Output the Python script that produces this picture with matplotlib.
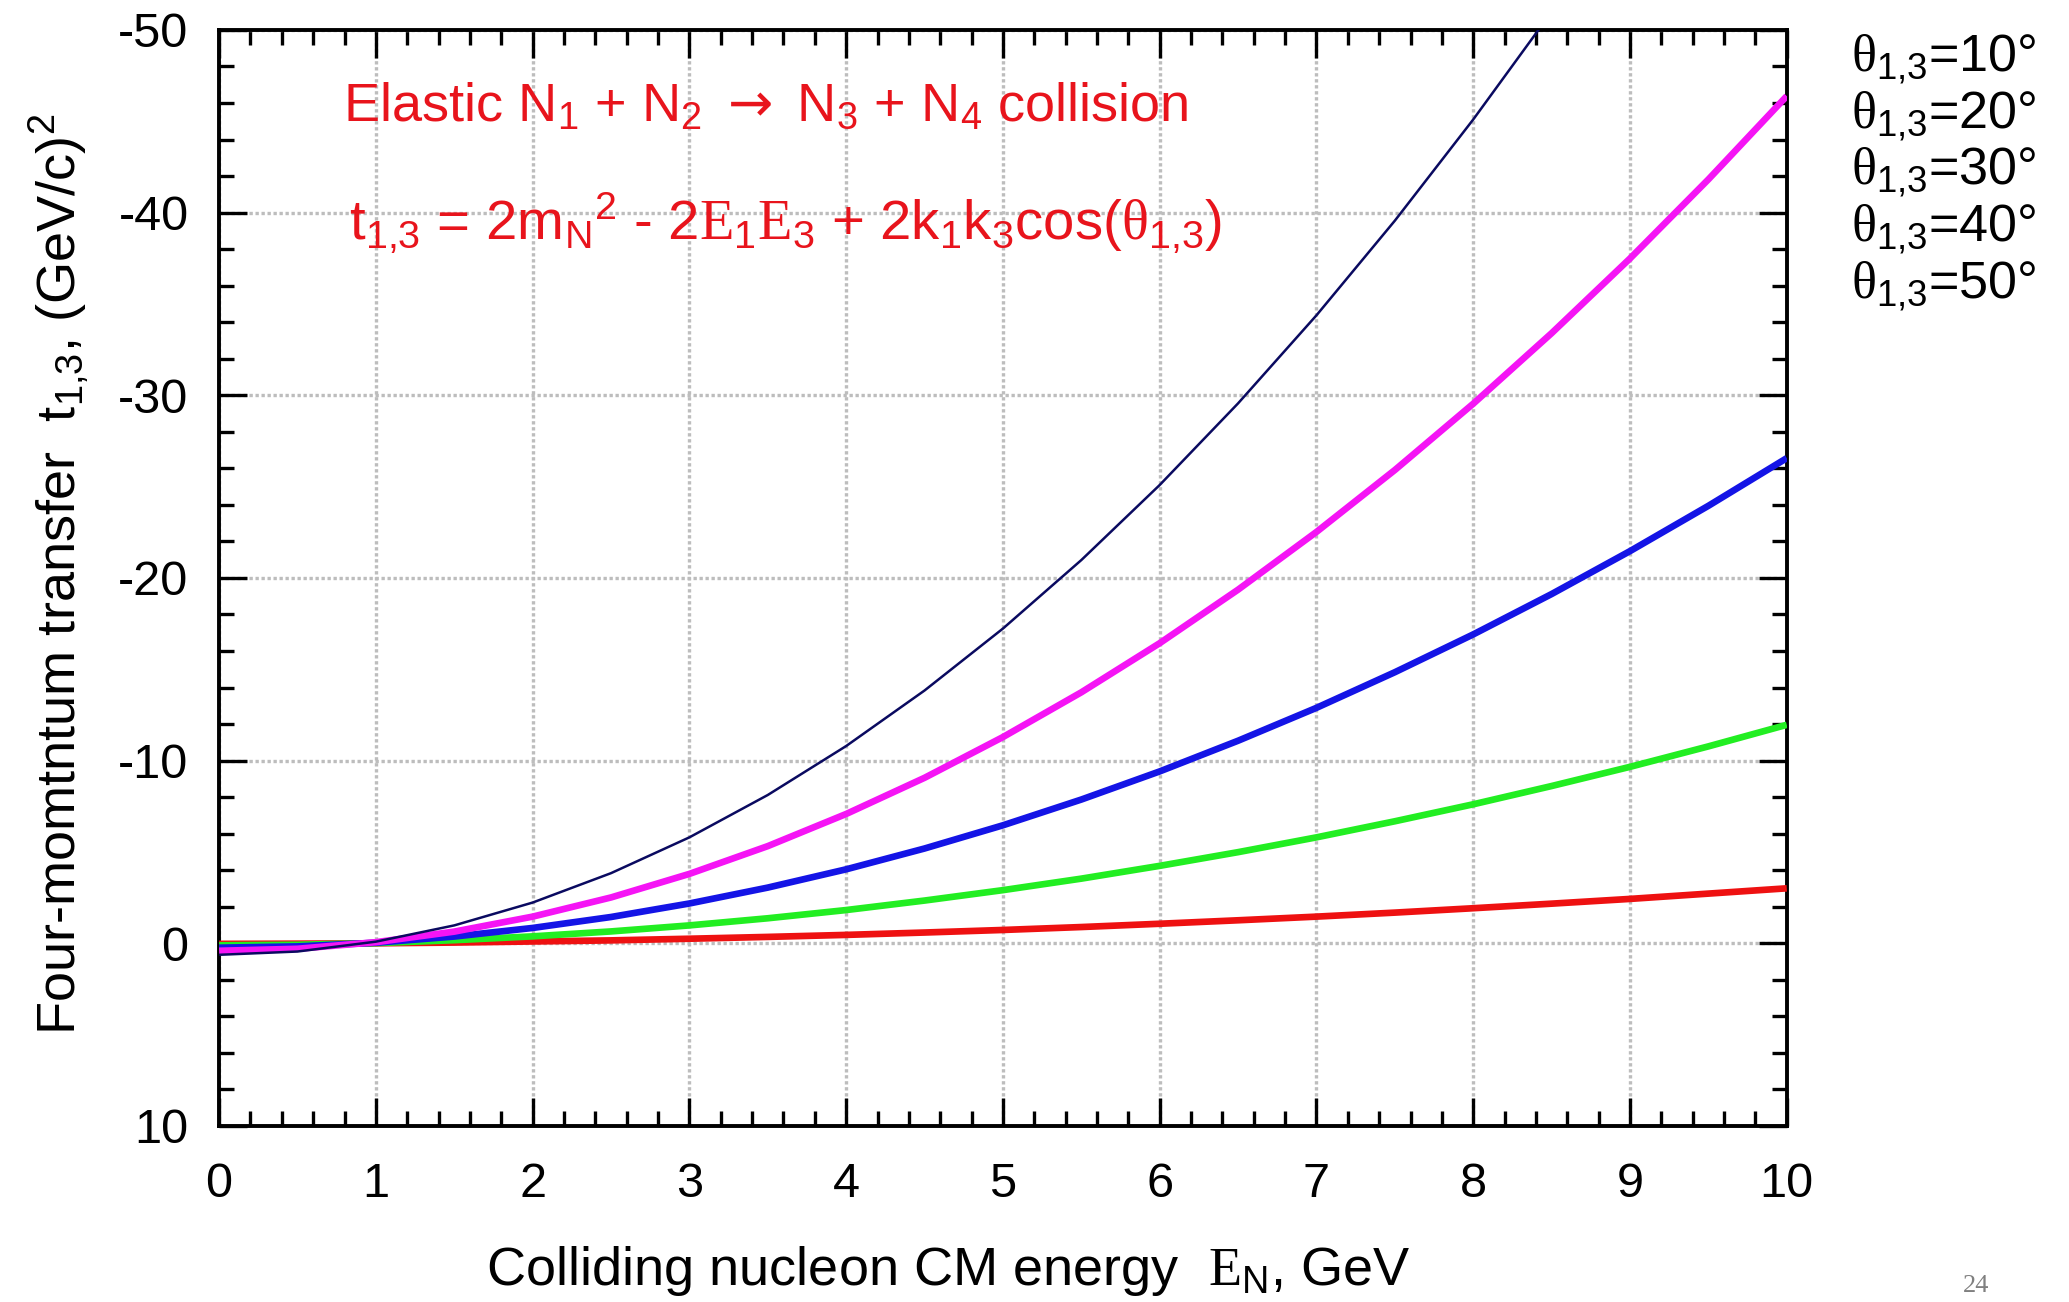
import matplotlib
matplotlib.use("Agg")
import matplotlib.pyplot as plt
from matplotlib.ticker import MultipleLocator

plt.rcParams['font.family'] = ['Liberation Sans', 'DejaVu Sans']
plt.rcParams['mathtext.fontset'] = 'custom'
plt.rcParams['mathtext.rm'] = 'Liberation Sans'
plt.rcParams['mathtext.it'] = 'Liberation Sans'
plt.rcParams['mathtext.bf'] = 'Liberation Serif'
plt.rcParams['mathtext.sf'] = 'DejaVu Sans'
plt.rcParams['axes.unicode_minus'] = False

# ---- data ----
energy = [0, 0.5, 1, 1.5, 2, 2.5, 3, 3.5, 4, 4.5, 5, 5.5, 6, 6.5, 7, 7.5, 8, 8.5, 9, 9.5, 10]
t_10 = [0.03, 0.02, 0.0, -0.04, -0.10, -0.16, -0.25, -0.35, -0.46, -0.59, -0.73, -0.89,
        -1.07, -1.26, -1.46, -1.68, -1.92, -2.17, -2.43, -2.72, -3.01]
t_20 = [0.11, 0.08, -0.01, -0.17, -0.38, -0.65, -0.98, -1.37, -1.82, -2.34, -2.91, -3.54,
        -4.24, -4.99, -5.80, -6.68, -7.61, -8.61, -9.66, -10.78, -11.96]
t_30 = [0.24, 0.17, -0.03, -0.37, -0.84, -1.44, -2.18, -3.05, -4.05, -5.19, -6.46, -7.87,
        -9.41, -11.09, -12.89, -14.84, -16.91, -19.12, -21.47, -23.95, -26.56]
t_40 = [0.41, 0.30, -0.06, -0.64, -1.46, -2.51, -3.80, -5.32, -7.08, -9.06, -11.29, -13.74,
        -16.43, -19.36, -22.52, -25.91, -29.54, -33.40, -37.49, -41.82, -46.38]
t_50 = [0.63, 0.45, -0.09, -0.98, -2.23, -3.84, -5.80, -8.12, -10.80, -13.84, -17.23, -20.98,
        -25.09, -29.56, -34.38, -39.56, -45.10, -50.99, -57.24, -63.85, -70.82]
series = [t_10, t_20, t_30, t_40, t_50]
colors = ['#ee1111', '#22ee22', '#1414e6', '#f514f5', '#0a0a60']
widths = [4.8, 4.8, 4.8, 4.8, 1.8]
legend_labels = [r"$\mathbf{\theta}_{1{,}3}$=10°", r"$\mathbf{\theta}_{1{,}3}$=20°",
                 r"$\mathbf{\theta}_{1{,}3}$=30°", r"$\mathbf{\theta}_{1{,}3}$=40°",
                 r"$\mathbf{\theta}_{1{,}3}$=50°"]
x_ticks = [0, 1, 2, 3, 4, 5, 6, 7, 8, 9, 10]
y_ticks = [-50, -40, -30, -20, -10, 0, 10]

fig = plt.figure(figsize=(20.69, 13.02), dpi=100)
ax = fig.add_axes([0.1059, 0.1352, 0.8636 - 0.1059, 0.9770 - 0.1352])

for s, c, w in zip(series, colors, widths):
    ax.plot(energy, s, color=c, lw=w, solid_capstyle='butt', zorder=3)

ax.set_xlim(0, 10)
ax.set_ylim(10, -50)
ax.set_xticks(x_ticks)
ax.set_yticks(y_ticks)
ax.set_yticklabels([str(v) for v in y_ticks])
ax.xaxis.set_minor_locator(MultipleLocator(0.2))
ax.yaxis.set_minor_locator(MultipleLocator(2))
ax.grid(True, which='major', color='#bdbdbd', lw=2.4, linestyle=(0, (1, 0.8)), zorder=1)
ax.tick_params(which='both', direction='in', top=True, right=True, width=2.4, color='black')
ax.tick_params(axis='x', which='major', length=20, labelsize=35, pad=26)
ax.tick_params(axis='x', which='minor', length=11)
ax.tick_params(axis='y', which='major', length=20, labelsize=35, pad=22)
ax.tick_params(axis='y', which='minor', length=11)
for sp in ax.spines.values():
    sp.set_linewidth(2.8)

fig.text(0.4585, 0.024, r"Colliding nucleon CM energy  $\mathbf{E}_\mathrm{N}$, GeV",
         fontsize=39, ha='center', va='center')
fig.text(0.029, 0.559, r"Four-momtntum transfer  t$_{1{,}3}$, (GeV/c)$^2$",
         fontsize=39, ha='center', va='center', rotation=90)

red = '#e8141c'
ax.text(0.079, 0.930, r"Elastic N$_1$ + N$_2$ $\mathsf{\rightarrow}$ N$_3$ + N$_4$ collision",
        transform=ax.transAxes, color=red, fontsize=39, va='center', ha='left')
ax.text(0.083, 0.824,
        r"t$_{1{,}3}$ = 2m$_\mathrm{N}{}^2$ - 2$\mathbf{E}_1\mathbf{E}_3$ + 2k$_1$k$_3$cos($\mathbf{\theta}_{1{,}3}$)",
        transform=ax.transAxes, color=red, fontsize=40.5, va='center', ha='left')

ys = [0.9544, 0.9108, 0.8673, 0.8237, 0.7801]
for lab, yy in zip(legend_labels, ys):
    fig.text(0.8948, yy, lab, fontsize=37.5, va='center', ha='left', color='black')

fig.text(0.9488, 0.0077, "24", fontsize=19, color='#808080', family='Liberation Serif',
         va='baseline', ha='left')

fig.savefig("out.png", dpi=100)
